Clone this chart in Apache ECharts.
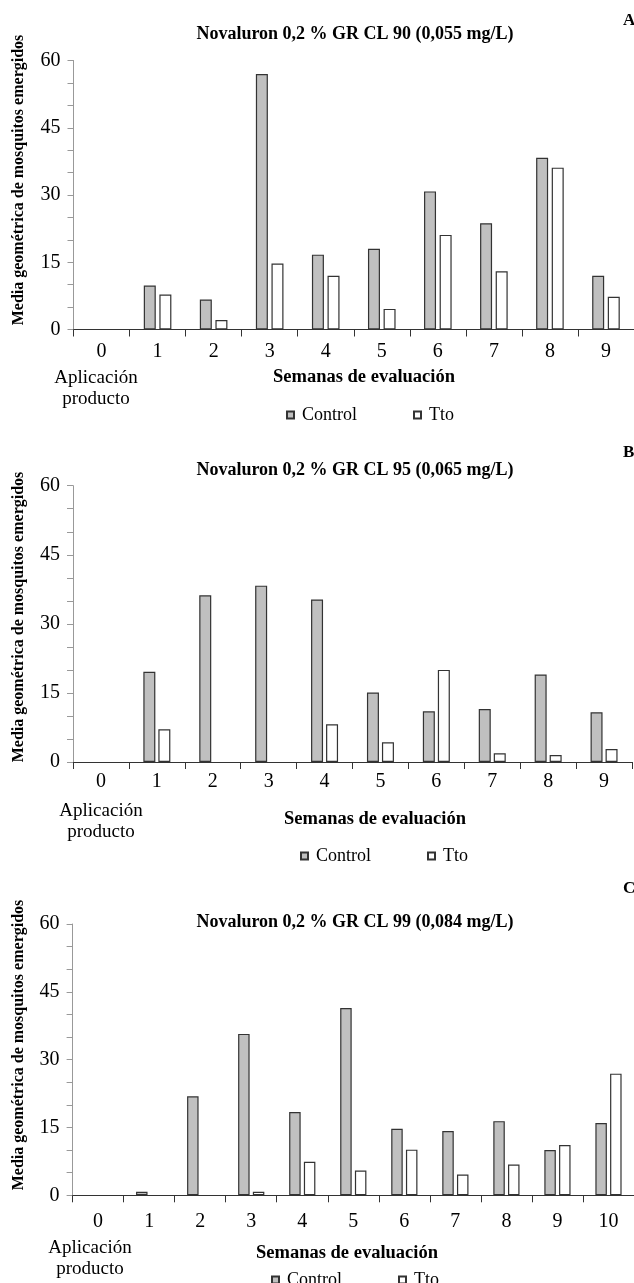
<!DOCTYPE html>
<html>
<head>
<meta charset="utf-8">
<script src="https://cdn.jsdelivr.net/npm/echarts@6/dist/echarts.min.js"></script>
<style>
  html, body { margin: 0; padding: 0; background: #fff; }
  #chart { width: 634px; height: 1283px; }
</style>
</head>
<body>
<div id="chart"></div>
<script>
// semanas de evaluación
var weeksAB = ["0", "1", "2", "3", "4", "5", "6", "7", "8", "9"];
var weeksC = ["0", "1", "2", "3", "4", "5", "6", "7", "8", "9", "10"];
var yTicks = [0, 15, 30, 45, 60];

// panel A: CL 90
var controlA = [null, 9.8, 6.7, 57.0, 16.7, 18.0, 30.8, 23.7, 38.3, 12.0];
var ttoA = [null, 7.8, 2.1, 14.7, 12.0, 4.6, 21.1, 13.0, 36.1, 7.3];
// panel B: CL 95
var controlB = [null, 19.6, 36.2, 38.3, 35.3, 15.1, 11.0, 11.5, 19.0, 10.8];
var ttoB = [null, 7.1, null, null, 8.2, 4.3, 20.0, 1.9, 1.5, 2.8];
// panel C: CL 99
var controlC = [null, 0.8, 21.9, 35.7, 18.4, 41.4, 14.7, 14.2, 16.4, 10.0, 16.0];
var ttoC = [null, null, null, 0.8, 7.4, 5.5, 10.1, 4.6, 6.8, 11.1, 26.9];

var titles = [
  "Novaluron 0,2 % GR CL 90 (0,055 mg/L)",
  "Novaluron 0,2 % GR CL 95 (0,065 mg/L)",
  "Novaluron 0,2 % GR CL 99 (0,084 mg/L)"
];
var letters = ["A", "B", "C"];
var yName = "Media geométrica de mosquitos emergidos";
var xName = "Semanas de evaluación";
var appLabel = "Aplicación\nproducto";

var serif = "'Liberation Serif', 'Times New Roman', serif";

// grid geometry per panel
var panels = [
  { left: 73.5, top: 60.5, width: 565, height: 269, cats: weeksAB, control: controlA, tto: ttoA, bw: 12, gap: "30%", lblMargin: 12 },
  { left: 73, top: 485.7, width: 559, height: 276.3, cats: weeksAB, control: controlB, tto: ttoB, bw: 12, gap: "25%", lblMargin: 10 },
  { left: 72.6, top: 924, width: 564, height: 271.3, cats: weeksC, control: controlC, tto: ttoC, bw: 11.5, gap: "28%", lblMargin: 16 }
];

// text positions (title y, letter y, y-name center, semanas, aplicación, legend)
var txt = [
  { titleY: 34, letterY: 21, yNameY: 180, semX: 364, semY: 377, appX: 96, appY: 378, legX: 281, legY: 401 },
  { titleY: 470, letterY: 453, yNameY: 617, semX: 375, semY: 819, appX: 101, appY: 811, legX: 295, legY: 842 },
  { titleY: 922, letterY: 889, yNameY: 1045, semX: 347, semY: 1253, appX: 90, appY: 1248, legX: 266, legY: 1266 }
];

var chart = echarts.init(document.getElementById("chart"));

var grids = [], xAxes = [], yAxes = [], series = [], legends = [], graphics = [];

panels.forEach(function (p, i) {
  grids.push({ left: p.left, top: p.top, width: p.width, height: p.height, containLabel: false });
  xAxes.push({
    type: "category",
    gridIndex: i,
    data: p.cats,
    boundaryGap: true,
    axisLine: { lineStyle: { color: "#333", width: 1.2 } },
    axisTick: { show: true, length: 7, lineStyle: { color: "#333" } },
    axisLabel: { fontFamily: serif, fontSize: 20, color: "#000", margin: p.lblMargin, interval: 0 },
    splitLine: { show: false }
  });
  yAxes.push({
    type: "value",
    gridIndex: i,
    min: yTicks[0],
    max: yTicks[yTicks.length - 1],
    interval: 15,
    axisLine: { show: true, lineStyle: { color: "#999" } },
    axisTick: { show: true, length: 6, lineStyle: { color: "#999" } },
    minorTick: { show: true, splitNumber: 3, length: 6, lineStyle: { color: "#999" } },
    axisLabel: { fontFamily: serif, fontSize: 20, color: "#000", margin: 13 },
    splitLine: { show: false }
  });
  series.push({
    name: "Control",
    type: "bar",
    xAxisIndex: i,
    yAxisIndex: i,
    data: p.control,
    barWidth: p.bw,
    barGap: p.gap,
    itemStyle: { color: "#c0c0c0", borderColor: "#333", borderWidth: 1.2 }
  });
  series.push({
    name: "Tto",
    type: "bar",
    xAxisIndex: i,
    yAxisIndex: i,
    data: p.tto,
    barWidth: p.bw,
    barGap: p.gap,
    itemStyle: { color: "#ffffff", borderColor: "#333", borderWidth: 1.2 }
  });

  var t = txt[i];
  legends.push({
    data: ["Control", "Tto"],
    left: t.legX,
    top: t.legY,
    orient: "horizontal",
    icon: "rect",
    itemWidth: 7,
    itemHeight: 7,
    itemGap: 56,
    selectedMode: false,
    textStyle: { fontFamily: serif, fontSize: 18, color: "#000", padding: [0, 0, 0, 3] }
  });

  graphics.push({
    type: "text", x: 355, y: t.titleY,
    style: { text: titles[i], fontFamily: serif, fontSize: 18, fontWeight: "bold", fill: "#000", textAlign: "center", textVerticalAlign: "middle" }
  });
  graphics.push({
    type: "text", x: 623, y: t.letterY,
    style: { text: letters[i], fontFamily: serif, fontSize: 17, fontWeight: "bold", fill: "#000", textAlign: "left", textVerticalAlign: "middle" }
  });
  graphics.push({
    type: "text", x: 19, y: t.yNameY, rotation: Math.PI / 2,
    style: { text: yName, fontFamily: serif, fontSize: 16, fontWeight: "bold", fill: "#000", textAlign: "center", textVerticalAlign: "middle" }
  });
  graphics.push({
    type: "text", x: t.semX, y: t.semY,
    style: { text: xName, fontFamily: serif, fontSize: 18.5, fontWeight: "bold", fill: "#000", textAlign: "center", textVerticalAlign: "middle" }
  });
  graphics.push({
    type: "text", x: t.appX, y: t.appY - 10,
    style: { text: appLabel, fontFamily: serif, fontSize: 19, lineHeight: 21, fill: "#000", textAlign: "center", textVerticalAlign: "top" }
  });
});

chart.setOption({
  backgroundColor: "#fff",
  animation: false,
  grid: grids,
  xAxis: xAxes,
  yAxis: yAxes,
  legend: legends,
  series: series,
  graphic: graphics
});
</script>
</body>
</html>
